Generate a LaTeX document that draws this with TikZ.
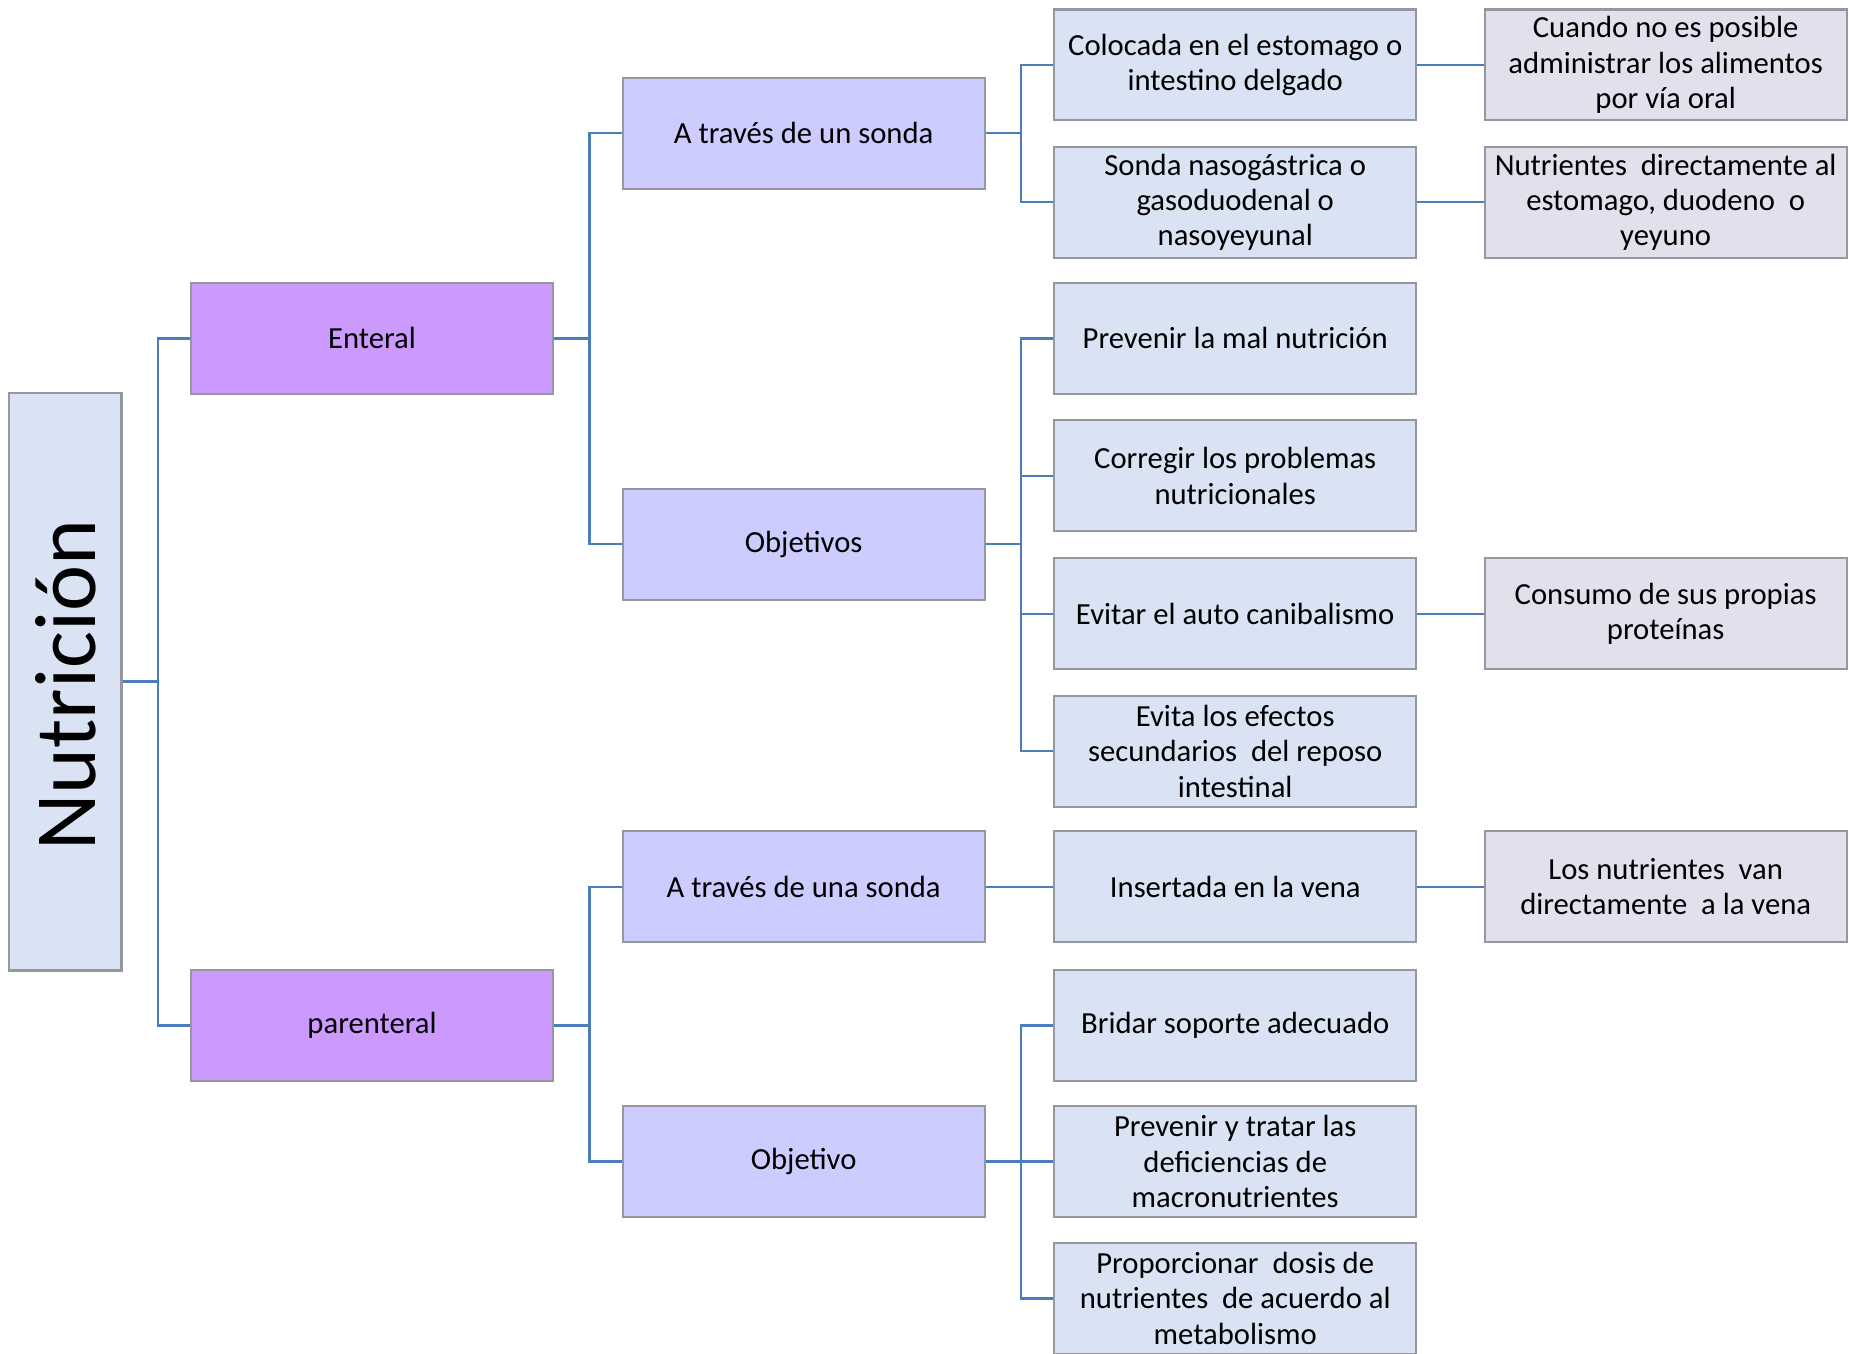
\documentclass[tikz,border=0pt]{standalone}
\usepackage{fontspec}
\setmainfont{Carlito}
\begin{document}
\begin{tikzpicture}[x=0.5pt,y=-0.5pt,
  box/.style={draw={rgb,255:red,150;green,150;blue,160}, line width=0.9pt, minimum width=153.5pt, minimum height=47pt, inner sep=0pt, align=center, font=\fontsize{13}{15}\selectfont},
  lvA/.style={box, fill={rgb,255:red,204;green,153;blue,255}},
  lvB/.style={box, fill={rgb,255:red,204;green,204;blue,255}},
  lvC/.style={box, fill={rgb,255:red,218;green,227;blue,243}},
  lvD/.style={box, fill={rgb,255:red,225;green,224;blue,236}},
  link/.style={draw={rgb,255:red,74;green,126;blue,187}, line width=1pt}]
\useasboundingbox (0,0) rectangle (1568,1148);
% root
\node[draw={rgb,255:red,150;green,150;blue,160}, line width=0.9pt, fill={rgb,255:red,218;green,227;blue,243}, minimum width=47.5pt, minimum height=245pt, inner sep=0pt] (root) at (55.5,578) {};
\node[rotate=90, font=\fontsize{37}{40}\selectfont, inner sep=0pt] (roottext) at (55.5,581) {Nutrición};
% level 1
\node[lvA] (ent) at (315.5,287) {Enteral};
\node[lvA] (par) at (315.5,869.5) {parenteral};
% level 2
\node[lvB] (sonda1) at (681.5,113) {A través de un sonda};
\node[lvB] (obj1) at (681.5,461.5) {Objetivos};
\node[lvB] (sonda2) at (681.5,752) {A través de una sonda};
\node[lvB] (obj2) at (681.5,985) {Objetivo};
% level 3
\node[lvC] (col) at (1047.5,55) {Colocada en el estomago o\\intestino delgado};
\node[lvC] (sng) at (1047.5,171.5) {Sonda nasogástrica o\\gasoduodenal o\\nasoyeyunal};
\node[lvC] (prev) at (1047.5,287) {Prevenir la mal nutrición};
\node[lvC] (corr) at (1047.5,403.5) {Corregir los problemas\\nutricionales};
\node[lvC] (evit) at (1047.5,520.5) {Evitar el auto canibalismo};
\node[lvC] (efec) at (1047.5,637) {Evita los efectos\\secundarios\ \ del reposo\\intestinal};
\node[lvC] (ins) at (1047.5,752) {Insertada en la vena};
\node[lvC] (brid) at (1047.5,869.5) {Bridar soporte adecuado};
\node[lvC] (prtr) at (1047.5,985) {Prevenir y tratar las\\deficiencias de\\macronutrientes};
\node[lvC] (prop) at (1047.5,1101) {Proporcionar\ \ dosis de\\nutrientes\ \ de acuerdo al\\metabolismo};
% level 4
\node[lvD] (cuan) at (1412.5,55) {Cuando no es posible\\administrar los alimentos\\por vía oral};
\node[lvD] (nutr) at (1412.5,171.5) {Nutrientes\ \ directamente al\\estomago, duodeno\ \ o\\yeyuno};
\node[lvD] (cons) at (1412.5,520.5) {Consumo de sus propias\\proteínas};
\node[lvD] (van) at (1412.5,752) {Los nutrientes\ \ van\\directamente\ \ a la vena};
% connectors
\foreach \a/\b in {root/ent, root/par, ent/sonda1, ent/obj1, par/sonda2, par/obj2,
  sonda1/col, sonda1/sng, obj1/prev, obj1/corr, obj1/evit, obj1/efec,
  obj2/brid, obj2/prtr, obj2/prop}
  \draw[link] (\a.east) -- ++(30,0) |- (\b.west);
\foreach \a/\b in {sonda2/ins, col/cuan, sng/nutr, evit/cons, ins/van}
  \draw[link] (\a.east) -- (\b.west);
\end{tikzpicture}
\end{document}
